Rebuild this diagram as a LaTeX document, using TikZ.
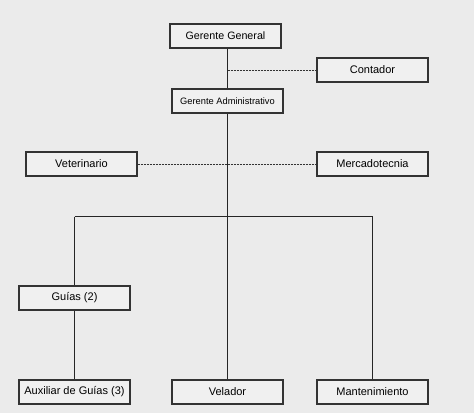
\documentclass[tikz,border=0pt]{standalone}
\usepackage{fontspec}
\setmainfont{Liberation Sans}
\begin{document}
\begin{tikzpicture}[x=1pt,y=-1pt,
  box/.style={draw=black!80,line width=1.2pt,fill=black!6,minimum width=111pt,minimum height=24pt,inner sep=0pt,font=\fontsize{11}{13}\selectfont},
  link/.style={draw=black!85,line width=1.2pt},
  dotlink/.style={draw=black!80,line width=1pt,dash pattern=on 2pt off 1pt}]
\fill[black!8] (0,0) rectangle (474,413);
\useasboundingbox (0,0) rectangle (474,413);
\node[box,font=\fontsize{10.7}{13}\selectfont] (gg) at (225.5,36) {Gerente General};
\node[box] (cont) at (372.5,70) {Contador};
\node[box,font=\fontsize{9.3}{11}\selectfont] (ga) at (227.5,101) {Gerente Administrativo};
\node[box] (vet) at (81.5,164) {Veterinario};
\node[box] (mer) at (372.5,164) {Mercadotecnia};
\node[box] (gui) at (74.5,298) {Guías (2)};
\node[box] (aux) at (74.5,392) {Auxiliar de Guías (3)};
\node[box] (vel) at (227.5,392) {Velador};
\node[box] (man) at (372.5,392) {Mantenimiento};
\coordinate (c1) at (227.5,70);
\coordinate (bl) at (74.5,216.5);
\coordinate (br) at (372.5,216.5);
\draw[link] (gg.south -| ga.north) -- (ga.north);
\draw[link] (ga.south) -- (vel.north);
\draw[link] (bl) -- (br);
\draw[link] (bl) -- (gui.north);
\draw[link] (br) -- (man.north);
\draw[link] (gui.south) -- (aux.north);
\draw[dotlink] (c1) -- (cont.west);
\draw[dotlink] (vet.east) -- (mer.west);
\end{tikzpicture}
\end{document}
